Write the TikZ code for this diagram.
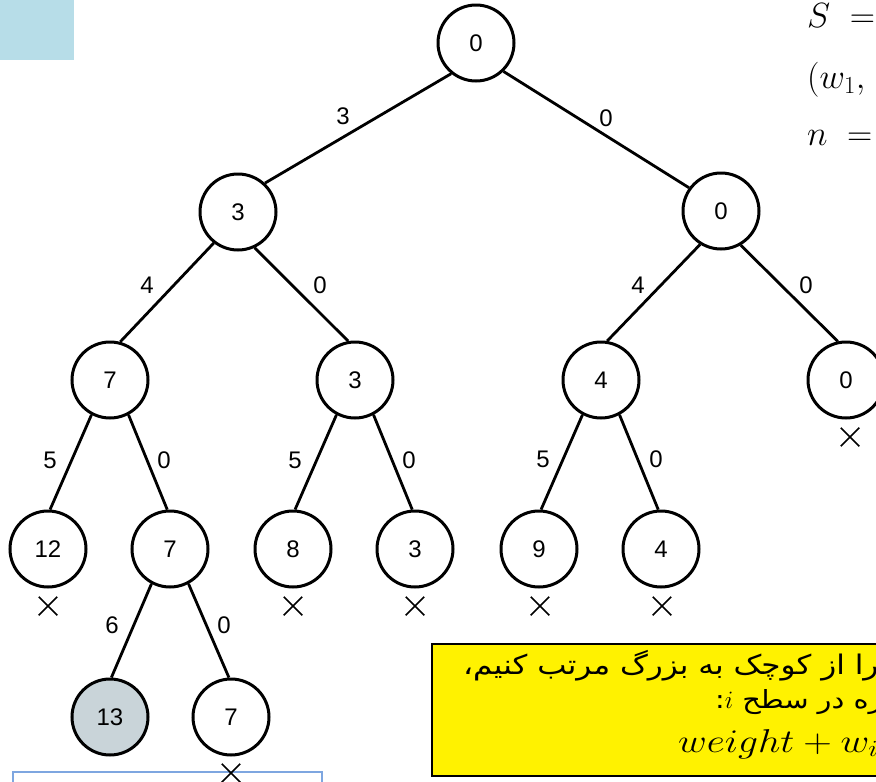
\RequirePackage{fix-cm}
\documentclass[tikz,border=0pt]{standalone}
\usepackage{fontspec}
\usepackage{graphicx}
\usetikzlibrary{shapes.misc}
\newfontfamily\treefont{Liberation Sans}
\newfontfamily\arabicfont[Script=Arabic, FakeStretch=1.15]{DejaVu Sans}
\TeXXeTstate=1
\definecolor{tilebg}{HTML}{B7DDE8}
\definecolor{frameblue}{HTML}{7EA6E0}
\definecolor{chosen}{HTML}{C9D4D9}
\begin{document}
\begin{tikzpicture}[x=1pt,y=-1pt,
  state/.style={circle, draw, line width=3pt, minimum size=76pt, inner sep=0pt,
    font=\treefont\fontsize{24}{28}\selectfont},
  edge/.style={line width=2.8pt},
  wlabel/.style={inner sep=0pt, font=\treefont\fontsize{24}{28}\selectfont},
  xmark/.style={cross out, draw, line width=1.5pt, minimum size=17pt, inner sep=0pt},
  mathtxt/.style={anchor=base west, inner sep=0pt, font=\fontsize{35}{40}\selectfont},
  fatxt/.style={anchor=base west, inner sep=0pt, font=\arabicfont\fontsize{27}{32}\selectfont}]
\useasboundingbox (0,0) rectangle (876,782);

% corner tile and frames
\fill[tilebg] (0,0) rectangle (74,60);
\draw[frameblue, line width=1.2pt] (13,772) rectangle (322,810);

% problem data
\node[mathtxt] (sdef) at (807,27) {$S\;=$};
\node[mathtxt] (wdef) at (807,88) {$(w_1,$};
\node[mathtxt] (ndef) at (807,145) {$n\;=$};

% state-space tree
\node[state] (root) at (476,43) {0};
\node[state] (a) at (238,212) {3};
\node[state] (b) at (721,211) {0};
\node[state] (c) at (110,380) {7};
\node[state] (d) at (355,380) {3};
\node[state] (e) at (601,380) {4};
\node[state] (f) at (846,380) {0};
\node[state] (g) at (48,549) {12};
\node[state] (h) at (170,549) {7};
\node[state] (i) at (293,549) {8};
\node[state] (j) at (415,549) {3};
\node[state] (k) at (539,549) {9};
\node[state] (l) at (661,549) {4};
\node[state, fill=chosen] (m) at (110,717) {13};
\node[state] (n) at (231,717) {7};

\draw[edge] (root.231) -- (a.47);
\draw[edge] (root.314) -- (b.144);
\draw[edge] (a.232) -- (c.75);
\draw[edge] (a.295) -- (d.100);
\draw[edge] (b.238) -- (e.81);
\draw[edge] (b.300) -- (f.102);
\draw[edge] (c.242) -- (g.87);
\draw[edge] (c.298) -- (h.94);
\draw[edge] (d.242) -- (i.87);
\draw[edge] (d.298) -- (j.94);
\draw[edge] (e.242) -- (k.87);
\draw[edge] (e.298) -- (l.94);
\draw[edge] (h.242) -- (m.88);
\draw[edge] (h.298) -- (n.93);

% edge weights
\node[wlabel] (w1) at (343,116) {3};
\node[wlabel] (w2) at (606,118) {0};
\node[wlabel] (w3) at (147,285) {4};
\node[wlabel] (w4) at (320,285) {0};
\node[wlabel] (w5) at (638,285) {4};
\node[wlabel] (w6) at (806,285) {0};
\node[wlabel] (w7) at (50,460) {5};
\node[wlabel] (w8) at (164,460) {0};
\node[wlabel] (w9) at (295,460) {5};
\node[wlabel] (w10) at (409,460) {0};
\node[wlabel] (w11) at (543,459) {5};
\node[wlabel] (w12) at (656,459) {0};
\node[wlabel] (w13) at (112,625) {6};
\node[wlabel] (w14) at (224,625) {0};

% pruned nodes
\node[xmark] (xg) at (48,606) {};
\node[xmark] (xi) at (293,606) {};
\node[xmark] (xj) at (415,606) {};
\node[xmark] (xk) at (540,606) {};
\node[xmark] (xl) at (662,606) {};
\node[xmark] (xf) at (850,437) {};
\node[xmark] (xn) at (231,773) {};

% note box
\node[draw, fill=yellow, line width=1.5pt, anchor=north west, minimum width=480pt,
  minimum height=132pt, inner sep=0pt] (note) at (431,643) {};
\node[fatxt] (line1) at (463,674) {\beginR را از کوچک به بزرگ مرتب کنیم،\endR};
\node[fatxt, font=\arabicfont\fontsize{25}{30}\selectfont] (line2) at (715,708)
  {\beginR گره در سطح \beginL$i$\endL:\endR};
\node[anchor=base west, inner sep=0pt, font=\fontsize{33}{40}\selectfont] (line3) at (678,752)
  {\scalebox{1.2}[1]{$weight+w_i$}};
\end{tikzpicture}
\end{document}
